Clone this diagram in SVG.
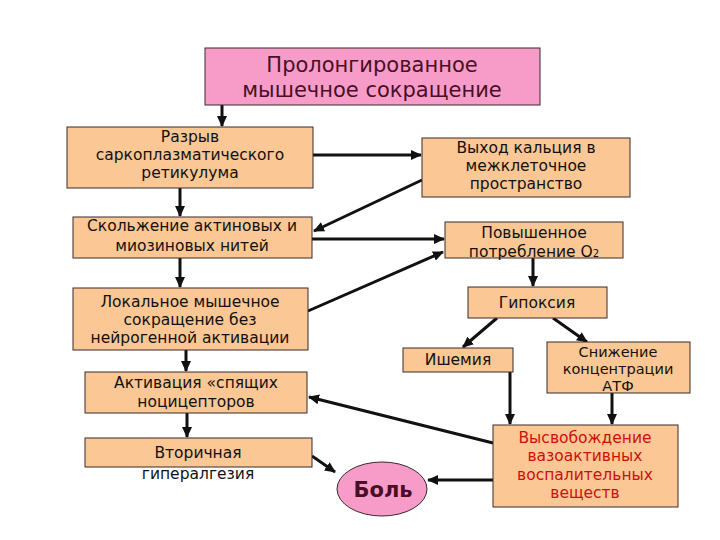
<svg xmlns="http://www.w3.org/2000/svg" width="720" height="540" viewBox="0 0 720 540">
<style>
.box{fill:#FBC794;stroke:#3a2a2a;stroke-width:1}
.pink{fill:#F79CC8;stroke:#3a2a2a;stroke-width:1}
text{font-family:"DejaVu Sans","Noto Sans",sans-serif;font-size:15.5px;fill:#111;text-anchor:middle}
.title{font-size:21px;fill:#4a0f25}
.red{fill:#cc1010}
.sm{font-size:14.5px}
.pain{font-size:21px;font-weight:bold;fill:#4a0f25}
.c{stroke:#111;stroke-width:3;fill:none;marker-end:url(#ah)}
</style>
<defs>
<marker id="ah" markerUnits="userSpaceOnUse" markerWidth="11" markerHeight="10" refX="10" refY="5" orient="auto">
<path d="M0,0 L11,5 L0,10 z" fill="#111"/>
</marker>
</defs>
<rect width="720" height="540" fill="#fff"/>
<g id="connectors">
<line class="c" x1="222" y1="105" x2="222" y2="126"/>
<line class="c" x1="313" y1="155" x2="421" y2="155"/>
<line class="c" x1="422" y1="180" x2="314" y2="231"/>
<line class="c" x1="180" y1="188" x2="180" y2="216"/>
<line class="c" x1="312" y1="239" x2="444" y2="239"/>
<line class="c" x1="308" y1="311" x2="443" y2="252"/>
<line class="c" x1="180" y1="258" x2="180" y2="287"/>
<line class="c" x1="533" y1="258" x2="533" y2="286"/>
<line class="c" x1="497" y1="318" x2="463" y2="347"/>
<line class="c" x1="553" y1="318" x2="587" y2="342"/>
<line class="c" x1="186" y1="350" x2="186" y2="371"/>
<line class="c" x1="510" y1="372" x2="510" y2="424"/>
<line class="c" x1="612" y1="393" x2="612" y2="424"/>
<line class="c" x1="493" y1="443" x2="309" y2="397"/>
<line class="c" x1="187" y1="413" x2="187" y2="437"/>
<line class="c" x1="312" y1="456" x2="335" y2="472"/>
<line class="c" x1="493" y1="480" x2="428" y2="480"/>
</g>
<g id="n-top">
<rect class="pink" x="205" y="48" width="335" height="57"/>
<text class="title" x="372" y="72">Пролонгированное</text>
<text class="title" x="372" y="97">мышечное сокращение</text>
</g>
<g id="n-razryv">
<rect class="box" x="67" y="127" width="246" height="61"/>
<text x="190" y="142">Разрыв</text>
<text x="190" y="160">саркоплазматического</text>
<text x="190" y="178">ретикулума</text>
</g>
<g id="n-vyhod">
<rect class="box" x="422" y="138" width="208" height="59"/>
<text x="526" y="153">Выход кальция в</text>
<text x="526" y="171">межклеточное</text>
<text x="526" y="189">пространство</text>
</g>
<g id="n-skolzh">
<rect class="box" x="73" y="217" width="239" height="41"/>
<text x="192" y="231">Скольжение актиновых и</text>
<text x="192" y="251">миозиновых нитей</text>
</g>
<g id="n-povysh">
<rect class="box" x="445" y="222" width="178" height="36"/>
<text x="534" y="238">Повышенное</text>
<text x="534" y="257">потребление O<tspan font-size="10">2</tspan></text>
</g>
<g id="n-lokal">
<rect class="box" x="73" y="288" width="235" height="62"/>
<text x="190" y="307">Локальное мышечное</text>
<text x="190" y="325">сокращение без</text>
<text x="190" y="343">нейрогенной активации</text>
</g>
<g id="n-gipoks">
<rect class="box" x="468" y="287" width="139" height="31"/>
<text x="537" y="308">Гипоксия</text>
</g>
<g id="n-ishem">
<rect class="box" x="403" y="348" width="110" height="24"/>
<text x="458" y="365">Ишемия</text>
</g>
<g id="n-snizh">
<rect class="box" x="547" y="342" width="143" height="51"/>
<text class="sm" x="618" y="357">Снижение</text>
<text class="sm" x="618" y="374">концентрации</text>
<text class="sm" x="618" y="391">АТФ</text>
</g>
<g id="n-aktiv">
<rect class="box" x="85" y="372" width="222" height="41"/>
<text x="196" y="388">Активация «спящих</text>
<text x="196" y="407">ноцицепторов</text>
</g>
<g id="n-vtor">
<rect class="box" x="85" y="438" width="227" height="29"/>
<text x="198" y="458">Вторичная</text>
<text x="198" y="479">гипералгезия</text>
</g>
<g id="n-bol">
<ellipse class="pink" cx="382" cy="489" rx="45" ry="27"/>
<text class="pain" x="383" y="497">Боль</text>
</g>
<g id="n-vysvob">
<rect class="box" x="493" y="425" width="185" height="82"/>
<text class="red" x="585" y="443">Высвобождение</text>
<text class="red" x="585" y="461">вазоактивных</text>
<text class="red" x="585" y="480">воспалительных</text>
<text class="red" x="585" y="498">веществ</text>
</g>
</svg>
